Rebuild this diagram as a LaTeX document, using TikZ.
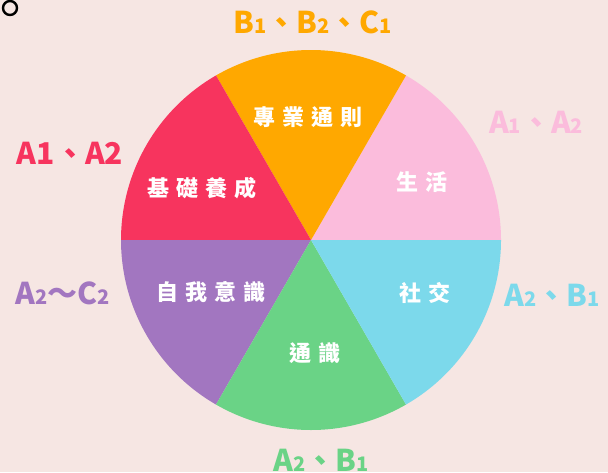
\documentclass[tikz,border=0pt]{standalone}
\usepackage{fontspec}
\setmainfont{Noto Sans CJK TC}
\usepackage{tikz}
\usetikzlibrary{positioning}
\definecolor{pagebg}{HTML}{F6E6E3}
\definecolor{secorange}{HTML}{FFA800}
\definecolor{secpink}{HTML}{FBBCDC}
\definecolor{secred}{HTML}{F7345E}
\definecolor{secpurple}{HTML}{A276C0}
\definecolor{seccyan}{HTML}{7CD9EB}
\definecolor{secgreen}{HTML}{6AD386}
\newcommand{\sm}[1]{{\fontsize{10pt}{10pt}\selectfont #1}}
\newcommand{\gap}{\hspace{3.5pt}}

\begin{document}
\begin{tikzpicture}[x=0.5pt,y=0.5pt,
    sector node/.style={text=white,font=\fontsize{11pt}{12pt}\selectfont\bfseries,inner sep=0pt},
    grade node/.style={font=\fontsize{15pt}{16pt}\selectfont\bfseries,inner sep=0pt}]
   \fill[pagebg] (0,0) rectangle (608,472);
   \useasboundingbox (0,0) rectangle (608,472);
   \coordinate (c) at (311,232);

   % six sectors
   \fill[secpink] (c) -- ++(0:190) arc[start angle=0,end angle=60,radius=190] -- cycle;
   \fill[secorange] (c) -- ++(60:190) arc[start angle=60,end angle=120,radius=190] -- cycle;
   \fill[secred] (c) -- ++(120:190) arc[start angle=120,end angle=180,radius=190] -- cycle;
   \fill[secpurple] (c) -- ++(180:190) arc[start angle=180,end angle=240,radius=190] -- cycle;
   \fill[secgreen] (c) -- ++(240:190) arc[start angle=240,end angle=300,radius=190] -- cycle;
   \fill[seccyan] (c) -- ++(300:190) arc[start angle=300,end angle=360,radius=190] -- cycle;

   % labels inside
   \node[sector node] (prof) at (308,355) {專\gap 業\gap 通\gap 則};
   \node[sector node] (life) at (422,290) {生\gap 活};
   \node[sector node] (social) at (425,179) {社\gap 交};
   \node[sector node] (general) at (315,119) {通\gap 識};
   \node[sector node] (self) at (211,180) {自\gap 我\gap 意\gap 識};
   \node[sector node] (basic) at (202,284) {基\gap 礎\gap 養\gap 成};

   % grade labels outside
   \node[grade node,text=secorange] (gprof) at (313,450) {B\sm{1}、B\sm{2}、C\sm{1}};
   \node[grade node,text=secpink] (glife) at (536,350) {A\sm{1}、A\sm{2}};
   \node[grade node,text=secred] (gbasic) at (70,319) {A1、A2};
   \node[grade node,text=secpurple] (gself) at (63,179) {A\sm{2}～C\sm{2}};
   \node[grade node,text=seccyan] (gsocial) at (552,177) {A\sm{2}、B\sm{1}};
   \node[grade node,text=secgreen] (ggeneral) at (321,12) {A\sm{2}、B\sm{1}};

   \node[circle,draw,line width=1.2pt,inner sep=0pt,minimum size=7pt] (dot) at (10,464) {};
\end{tikzpicture}
\end{document}
